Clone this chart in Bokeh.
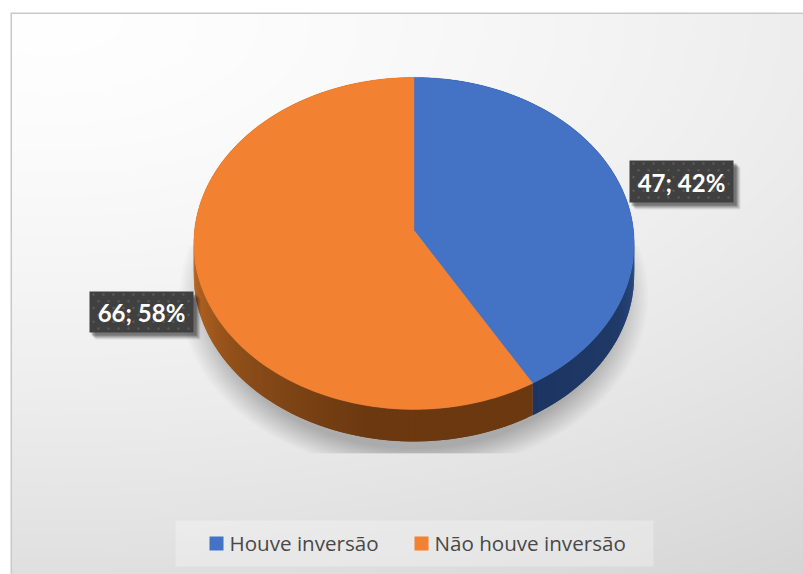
import numpy as np
from bokeh.core.properties import value
from bokeh.embed import file_html
from bokeh.models import Range1d
from bokeh.plotting import figure
from bokeh.resources import INLINE

# Chart data
categories = ["Houve inversão", "Não houve inversão"]
counts = [47, 66]
top_colors = ["#4472C4", "#F28131"]

# Side-wall shading: clockwise angle from 12 o'clock -> colour stops
blue_side = {90: (46, 80, 144), 115: (32, 58, 104), 150: (28, 52, 97)}
orange_side = {150: (107, 56, 16), 190: (107, 56, 16), 225: (138, 76, 24), 270: (196, 108, 38)}

W, H = 803, 574
FX, FY = 12, 14            # inner top-left corner of the chart frame
CX, CY = 413.5, 230        # where the pie's centre projects
RX, RY = 219.5, 165        # pie radii before perspective
K = 0.078                  # perspective strength
DEPTH = 32                 # thickness of the disc


def project(theta_deg, depth=0.0):
    """Clockwise angle from the top of the disc -> screen position."""
    t = np.radians(theta_deg)
    u, v = np.sin(t), np.cos(t)
    d = 1 + K * v
    return CX + RX * u / d, CY - RY * v / d + depth


def hex_of(rgb):
    return "#%02x%02x%02x" % tuple(int(round(c)) for c in rgb)


def shade(stops, theta):
    keys = sorted(stops)
    return hex_of([np.interp(theta, keys, [stops[k][i] for k in keys]) for i in range(3)])


p = figure(width=W, height=H, x_range=Range1d(0, W), y_range=Range1d(H, 0),
           output_backend="svg", toolbar_location=None, min_border=0,
           background_fill_color="white", border_fill_color="white")
p.axis.visible = False
p.grid.visible = False
p.outline_line_color = None

# Frame border
p.quad(left=[10], right=[W], top=[12], bottom=[H], fill_color="#c9c9c9", line_color=None)

# Soft background gradient: nested ellipses, one per grey level, clipped to the frame
LIGHT_X, LIGHT_Y, STRETCH = 50, 20, 2.0
REACH, SPAN, POWER = 670.0, 41, 1.5
circle = np.radians(np.linspace(0, 360, 181))
p.quad(left=[FX], right=[W], top=[FY], bottom=[H], fill_color=hex_of((212, 212, 212)), line_color=None)
for level in range(213, 255):
    reach = REACH * ((254.5 - level) / SPAN) ** (1 / POWER)
    ex = np.clip(LIGHT_X + reach * STRETCH * np.cos(circle), FX, W)
    ey = np.clip(LIGHT_Y + reach * np.sin(circle), FY, H)
    p.patch(ex, ey, fill_color=hex_of((level, level, level)), line_color=None)

# Blurred drop shadow under the disc, cut off at its lower edge
theta_all = np.linspace(0, 360, 361)
rim_x, rim_y = project(theta_all)
LAYERS = 20
for i in range(LAYERS):
    grow = 1.065 - 0.14 * i / (LAYERS - 1)
    sx = CX + (rim_x - CX) * grow
    sy = 243 + (rim_y - 243) * grow + 52
    keep = sy >= 244
    p.patch(sx[keep], np.clip(sy[keep], 244, 453), fill_color="black", fill_alpha=0.0125, line_color=None)

# Slice angles come straight from the counts
total = sum(counts)
edges = np.concatenate([[0], np.cumsum(counts) / total * 360])

# Side wall, in thin overlapping shaded strips
STEP = 1.5
for a0, a1, stops in [(edges[0], edges[1], blue_side), (edges[1], edges[2], orange_side)]:
    steps = np.arange(a0, a1, STEP)
    xs, ys, cols = [], [], []
    for a in steps:
        b = min(a + 2 * STEP, a1)
        x0, y0 = project(a)
        x1, y1 = project(b)
        xs.append([x0, x1, x1, x0])
        ys.append([y0, y1, y1 + DEPTH, y0 + DEPTH])
        cols.append(shade(stops, min(max(a, 90), 270)))
    p.patches(xs, ys, fill_color=cols, line_color=None)

# Top faces
for i, col in enumerate(top_colors):
    th = np.linspace(edges[i], edges[i + 1], 240)
    x, y = project(th)
    p.patch(np.r_[CX, x], np.r_[CY, y], fill_color=col, line_color=col, line_width=0.4)

# Data labels: dotted dark plates with a soft offset shadow
label_boxes = [(629, 733, 160, 202), (89, 193, 291, 332)]
for cnt, (l, r, t, b) in zip(counts, label_boxes):
    for s, a in [(7, 0.07), (6, 0.10), (5, 0.13), (4, 0.16), (3, 0.18)]:
        p.quad(left=[l + s - 1], right=[r + s], top=[t + s], bottom=[b + s], fill_color="black",
               fill_alpha=a, line_color=None)
    p.quad(left=[l], right=[r], top=[t], bottom=[b], fill_color="#404040", line_color=None)
    dx, dy = [], []
    for row, ry in enumerate(np.arange(t + 3, b, 6.8)):
        for rx in np.arange(l + 4 + (row % 2) * 5, r - 1, 10):
            dx.append(rx)
            dy.append(ry)
    p.scatter(dx, dy, size=2.6, marker="circle", fill_color="#626262", fill_alpha=0.7, line_color=None)
    p.text(x=[(l + r) / 2], y=[(t + b) / 2 + 0.5], text=[f"{cnt}; {round(100 * cnt / total)}%"],
           text_color="white", text_font=value("Lato"), text_font_style="bold",
           text_font_size="24px", text_align="center", text_baseline="middle")

# Legend strip
p.quad(left=[175], right=[653], top=[520], bottom=[566], fill_color="white", fill_alpha=0.28, line_color=None)
legend_swatch_x = [209, 414]
legend_text_x = [229, 434]
for name, col, sw, tx in zip(categories, top_colors, legend_swatch_x, legend_text_x):
    p.quad(left=[sw], right=[sw + 14], top=[536], bottom=[550], fill_color=col, line_color=None)
    p.text(x=[tx], y=[542], text=[name], text_color="#484848", text_font=value("Open Sans"),
           text_font_size="20.6px", text_align="left", text_baseline="middle")

open("out.html", "w").write(file_html(p, INLINE))
